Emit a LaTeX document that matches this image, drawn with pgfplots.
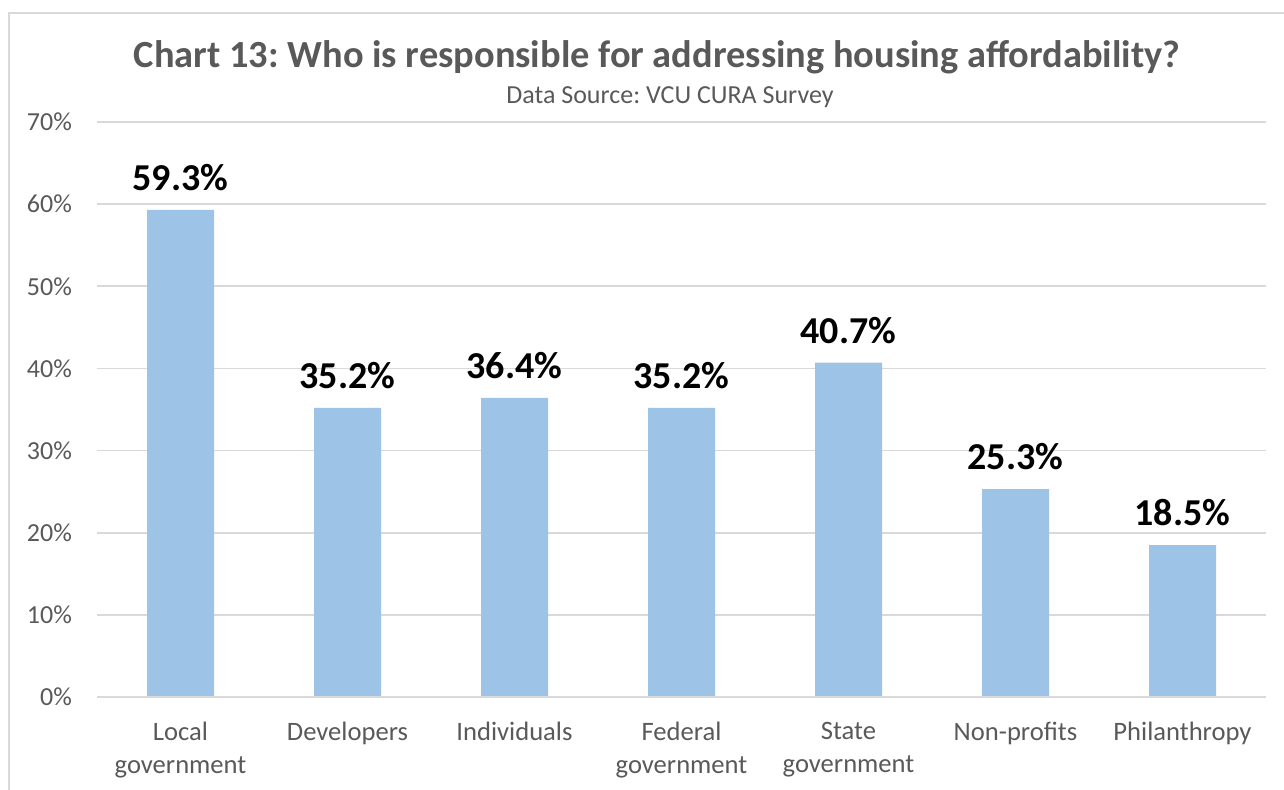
\documentclass[border=0pt]{standalone}
\usepackage{fontspec}
\setmainfont{Carlito}
\usepackage{pgfplots}
\pgfplotsset{compat=1.18}
\definecolor{barblue}{HTML}{9DC3E6}
\definecolor{txtgray}{HTML}{595959}
\definecolor{gridgray}{HTML}{D9D9D9}
\frenchspacing

\begin{document}
\begin{tikzpicture}[x=0.5pt,y=0.5pt]
\useasboundingbox (0,0) rectangle (1284,790);
% chart area border (cut at right and bottom)
\draw[gridgray, line width=1pt] (9,0) -- (9,777) -- (1284,777);
\node[font=\fontsize{19.2}{22}\selectfont\bfseries, text=txtgray] at (657,733) {Chart 13: Who is responsible for addressing housing affordability?};
\node[font=\fontsize{13}{16}\selectfont, text=txtgray] at (670,97) {};
\node[font=\fontsize{13}{16}\selectfont, text=txtgray] at (670,693) {Data Source: VCU CURA Survey};
\coordinate (O) at (97,93);
\begin{axis}[
  at={(O)}, anchor=south west,
  scale only axis,
  width=584.5pt, height=287.5pt,
  ybar, bar width=33.5pt,
  xmin=-0.5, xmax=6.5,
  ymin=0, ymax=70,
  ytick={0,10,...,70},
  yticklabel={\pgfmathprintnumber{\tick}\%},
  /pgf/number format/assume math mode=true,
  xtick={0,...,6},
  xticklabels={Local\\government, Developers, Individuals, Federal\\government, State\\government, Non-profits, Philanthropy},
  x tick label style={align=center, font=\fontsize{13.3}{16.5}\selectfont, text=txtgray, yshift=-9pt},
  y tick label style={font=\fontsize{13}{16}\selectfont, text=txtgray, xshift=-9pt},
  major tick length=0pt,
  axis line style={draw=none},
  axis x line*=bottom,
  ymajorgrids, grid style={gridgray, line width=0.9pt},
  nodes near coords={\pgfmathprintnumber[fixed, precision=1, zerofill]{\pgfplotspointmeta}\%},
  nodes near coords style={font=\fontsize{19}{22}\selectfont\bfseries, text=black, yshift=6pt},
  clip=false,
]
\addplot[fill=barblue, draw=none] coordinates {
  (0,59.3) (1,35.2) (2,36.4) (3,35.2) (4,40.7) (5,25.3) (6,18.5)
};
\end{axis}
\draw[gridgray, line width=1.2pt] (97,93) -- (1266,93);
\end{tikzpicture}
\end{document}
